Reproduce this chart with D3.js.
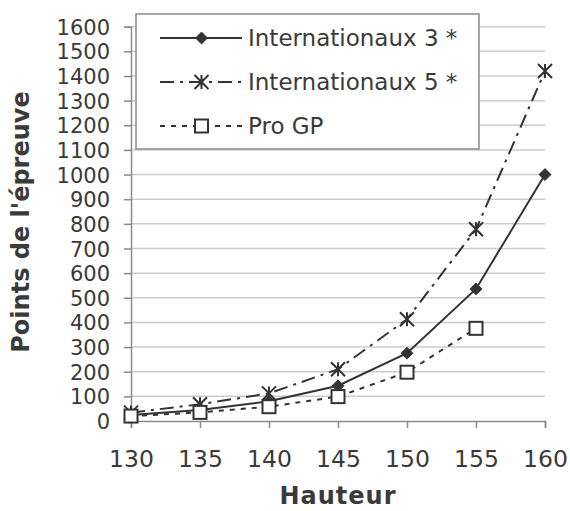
<!DOCTYPE html>
<html>
<head>
<meta charset="utf-8">
<script src="https://cdn.jsdelivr.net/npm/d3@7"></script>
<style>
  body { margin: 0; background: #fff; }
  text { font-family: "DejaVu Sans", Verdana, sans-serif; fill: #3a3a3a; }
</style>
</head>
<body>
<script>
// values
var heights = [130, 135, 140, 145, 150, 155, 160];
var int3 = [24, 45, 80, 143, 275, 536, 1000];
var int5 = [34, 68, 112, 210, 413, 778, 1420];
var proGP = [20, 35, 58, 99, 198, 376, null];
var yTicks = d3.range(0, 1601, 100);
var seriesNames = ["Internationaux 3 *", "Internationaux 5 *", "Pro GP"];

var w = 570, h = 511;
var svg = d3.select("body").append("svg").attr("width", w).attr("height", h);

var x = d3.scaleLinear().domain([130, 160]).range([131, 545]);
var y = d3.scaleLinear().domain([0, 1600]).range([421, 26.7]);

// gridlines
svg.append("g").selectAll("line")
  .data(yTicks.filter(function(d) { return d > 0; }))
  .enter().append("line")
  .attr("x1", 131).attr("x2", 545)
  .attr("y1", function(d) { return y(d); })
  .attr("y2", function(d) { return y(d); })
  .attr("stroke", "#cccccc").attr("stroke-width", 1.5);

// y axis
var yAxis = svg.append("g").attr("transform", "translate(131,0)")
  .call(d3.axisLeft(y).tickValues(yTicks).tickFormat(d3.format("d")).tickSize(7).tickPadding(14));
// x axis
var xAxis = svg.append("g").attr("transform", "translate(0,421)")
  .call(d3.axisBottom(x).tickValues(heights).tickFormat(d3.format("d")).tickSize(7).tickPadding(22));

[yAxis, xAxis].forEach(function(a) {
  a.select(".domain").attr("stroke", "#8a8a8a").attr("stroke-width", 1.5);
  a.selectAll(".tick line").attr("stroke", "#8a8a8a").attr("stroke-width", 1.5);
  a.selectAll("text").attr("font-size", 23.5).attr("fill", "#3a3a3a")
    .style("font-family", "'DejaVu Sans', Verdana, sans-serif");
});
// y labels sit 24.6px apart, keep them from touching
yAxis.selectAll("text").attr("font-size", 21).attr("dy", "0.36em");

// axis titles
svg.append("text").attr("x", 338).attr("y", 504)
  .attr("text-anchor", "middle").attr("font-size", 24).attr("font-weight", "bold")
  .attr("letter-spacing", 1)
  .text("Hauteur");
svg.append("text").attr("transform", "translate(29,222) rotate(-90)")
  .attr("text-anchor", "middle").attr("font-size", 24).attr("font-weight", "bold")
  .text("Points de l'épreuve");

var col = "#333";
var styles = [
  { vals: int3, dash: null, marker: "diamond" },
  { vals: int5, dash: "14,6,3,6", marker: "star" },
  { vals: proGP, dash: "5,6", marker: "square" }
];

function drawMarker(g, type, cx, cy) {
  if (type === "diamond") {
    g.append("path").attr("d", d3.symbol(d3.symbolDiamond2, 90)())
      .attr("transform", "translate(" + cx + "," + cy + ")")
      .attr("fill", col).attr("stroke", col).attr("stroke-width", 1);
  } else if (type === "star") {
    var s = 7;
    g.append("path")
      .attr("d", "M" + (cx - s) + "," + (cy - s) + "L" + (cx + s) + "," + (cy + s) +
        "M" + (cx - s) + "," + (cy + s) + "L" + (cx + s) + "," + (cy - s) +
        "M" + cx + "," + (cy - s) + "L" + cx + "," + (cy + s))
      .attr("stroke", col).attr("stroke-width", 2).attr("fill", "none");
  } else {
    g.append("rect").attr("x", cx - 6.5).attr("y", cy - 6.5)
      .attr("width", 13).attr("height", 13)
      .attr("fill", "#fff").attr("stroke", col).attr("stroke-width", 2);
  }
}

var line = d3.line()
  .defined(function(d) { return d != null; })
  .x(function(d, i) { return x(heights[i]); })
  .y(function(d) { return y(d); });

styles.forEach(function(s) {
  var g = svg.append("g");
  g.append("path").attr("d", line(s.vals))
    .attr("fill", "none").attr("stroke", col).attr("stroke-width", 2)
    .attr("stroke-dasharray", s.dash);
  s.vals.forEach(function(v, i) {
    if (v != null) drawMarker(g, s.marker, x(heights[i]), y(v));
  });
});

// legend
var lg = svg.append("g");
lg.append("rect").attr("x", 136).attr("y", 14).attr("width", 343).attr("height", 135)
  .attr("fill", "#fff").attr("stroke", "#8a8a8a").attr("stroke-width", 1.5);
var rowY = [38, 82, 126];
styles.forEach(function(s, i) {
  lg.append("line").attr("x1", 160).attr("x2", 242)
    .attr("y1", rowY[i]).attr("y2", rowY[i])
    .attr("stroke", col).attr("stroke-width", 2).attr("stroke-dasharray", s.dash);
  drawMarker(lg, s.marker, 201.5, rowY[i]);
  lg.append("text").attr("x", 248).attr("y", rowY[i]).attr("dy", "0.36em")
    .attr("font-size", 23).text(seriesNames[i]);
});
</script>
</body>
</html>
